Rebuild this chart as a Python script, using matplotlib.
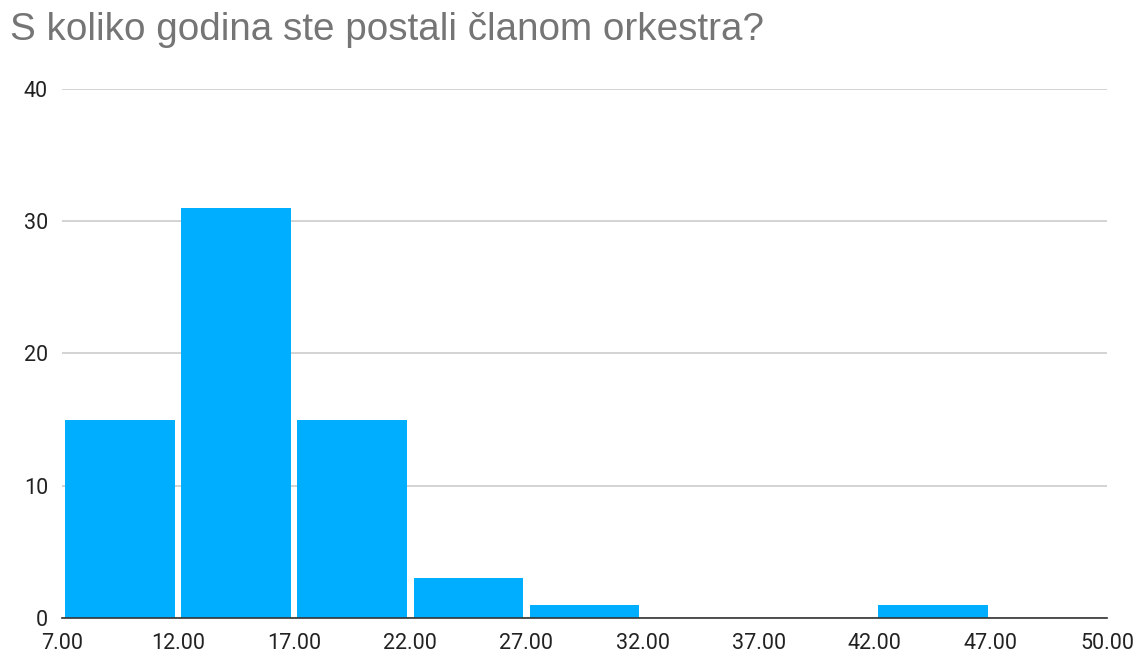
import matplotlib
matplotlib.use("Agg")
import matplotlib.pyplot as plt

bin_labels = ["7.00", "12.00", "17.00", "22.00", "27.00", "32.00", "37.00", "42.00", "47.00", "50.00"]
counts = [15, 31, 15, 3, 1, 0, 0, 1, 0]
y_ticks = [0, 10, 20, 30, 40]

bar_color = "#00aeff"

fig = plt.figure(figsize=(11.41, 6.53), dpi=100)
ax = fig.add_axes([62/1141, 35/653, (1107-62)/1141, (618-89)/653])

positions = [i + 0.5 for i in range(len(counts))]
ax.bar(positions, counts, width=0.945, color=bar_color, edgecolor="none", zorder=3)

ax.set_xlim(0, len(counts))
ax.set_ylim(0, 40)
ax.set_yticks(y_ticks)
ax.set_yticklabels([str(v) for v in y_ticks], fontsize=15.5, family="Roboto", color="#222222")
ax.set_xticks(range(len(bin_labels)))
ax.set_xticklabels(bin_labels, fontsize=15.5, family="Roboto", color="#222222")
ax.tick_params(axis="both", length=0)
ax.tick_params(axis="y", pad=10)
ax.tick_params(axis="x", pad=11)

ax.grid(axis="y", color="#cccccc", linewidth=1.2, zorder=0)
for s in ["top", "right", "left"]:
    ax.spines[s].set_visible(False)
ax.spines["bottom"].set_color("#333333")
ax.spines["bottom"].set_linewidth(1.2)
ax.spines["bottom"].set_zorder(4)

fig.text(10/1141, 1 - 30/653, "S koliko godina ste postali članom orkestra?",
         fontsize=27.8, family="Liberation Sans", color="#757575", va="center", ha="left")

fig.savefig("out.png", dpi=100, facecolor="white")
